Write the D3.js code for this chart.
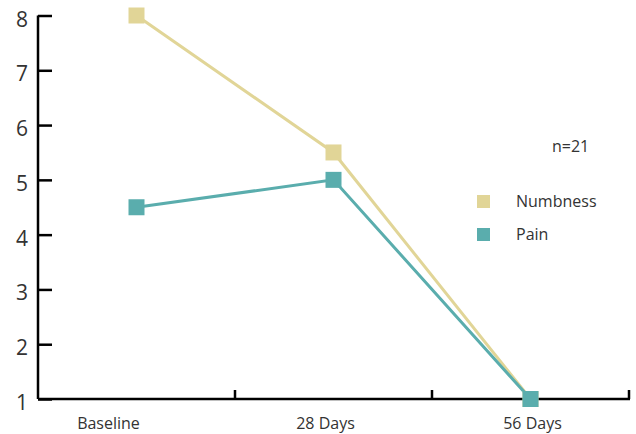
<!DOCTYPE html>
<html><head><meta charset="utf-8">
<script src="https://cdn.jsdelivr.net/npm/d3@7"></script>
<style>body{margin:0;background:#fff;} text{font-family:"Open Sans","Noto Sans",sans-serif;fill:#333;}</style>
</head><body>
<svg id="c" width="636" height="434"></svg>
<script>
const categories = ["Baseline", "28 Days", "56 Days"];
const numbness = [8, 5.5, 1];
const pain = [4.5, 5, 1];
const yTicks = [1, 2, 3, 4, 5, 6, 7, 8];
const seriesNames = ["Numbness", "Pain"];
const colors = ["#e1d597", "#5aadad"];
const note = "n=21";

const svg = d3.select("#c");
const x0 = 38, x1 = 629, yTop = 15.5, yBot = 399;
const x = d3.scaleBand().domain(categories).range([x0, x1]);
const y = d3.scaleLinear().domain([1, 8]).range([yBot, yTop]);

// y axis
const yAxis = d3.axisLeft(y).tickValues(yTicks).tickSize(-14).tickPadding(10).tickFormat(d3.format("d"));
const gy = svg.append("g").attr("transform", `translate(${x0},0)`).call(yAxis);
gy.select(".domain").attr("stroke", "#000").attr("stroke-width", 2.5).attr("d", `M0,${yTop}V${yBot}`);
gy.selectAll(".tick line").attr("stroke", "#000").attr("stroke-width", 2.5);
gy.selectAll(".tick text").attr("font-size", 21).attr("dy", "0.5em").attr("x", -10).style("fill", "#333").style("font-family", "'Open Sans',sans-serif");

// x axis
const gx = svg.append("g").attr("transform", `translate(0,${yBot})`);
gx.append("line").attr("x1", x0).attr("x2", x1 + 1).attr("stroke", "#000").attr("stroke-width", 2.5);
const bounds = categories.map(c => x(c) + x.bandwidth());
gx.selectAll("line.tk").data(bounds).join("line").attr("class", "tk")
  .attr("x1", d => d).attr("x2", d => d).attr("y1", 0).attr("y2", -9)
  .attr("stroke", "#000").attr("stroke-width", 2.5);
const labelShift = [-28, -8, 2];
gx.selectAll("text").data(categories).join("text")
  .attr("x", (d, i) => x(d) + x.bandwidth() / 2 + labelShift[i]).attr("y", 30)
  .attr("text-anchor", "middle").attr("font-size", 16).text(d => d);

// series
const series = [numbness, pain];
const line = d3.line().x((d, i) => x(categories[i]) + x.bandwidth() / 2).y(d => y(d));
series.forEach((vals, s) => {
  svg.append("path").datum(vals).attr("d", line).attr("fill", "none")
    .attr("stroke", colors[s]).attr("stroke-width", 3);
});
series.forEach((vals, s) => {
  svg.selectAll(null).data(vals).join("rect")
    .attr("x", (d, i) => x(categories[i]) + x.bandwidth() / 2 - 8)
    .attr("y", d => y(d) - 8).attr("width", 16).attr("height", 16)
    .attr("fill", colors[s]);
});

// legend
svg.append("text").attr("x", 552).attr("y", 152).attr("font-size", 16).text(note);
seriesNames.forEach((n, i) => {
  const ly = 195 + i * 33;
  svg.append("rect").attr("x", 477).attr("y", ly).attr("width", 13).attr("height", 13).attr("fill", colors[i]);
  svg.append("text").attr("x", 516).attr("y", ly + 12).attr("font-size", 16).text(n);
});
</script>
</body></html>
